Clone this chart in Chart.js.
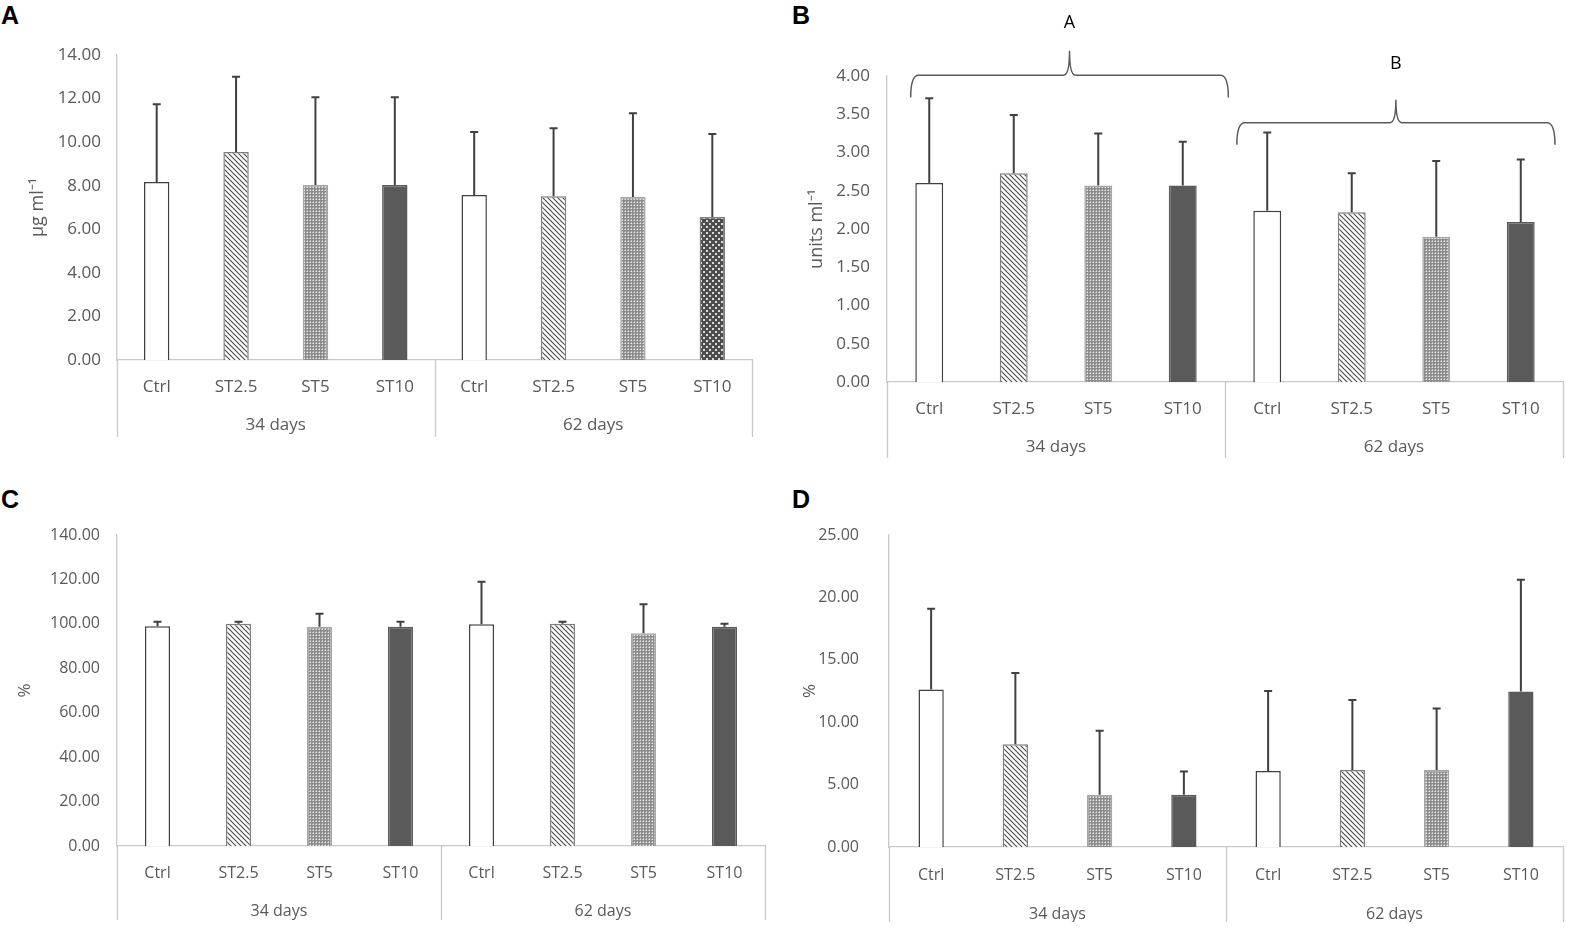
<!DOCTYPE html>
<html>
<head>
<meta charset="utf-8">
<script src="https://cdn.jsdelivr.net/npm/chart.js@4.4.0/dist/chart.umd.min.js"></script>
<style>
  html, body { margin: 0; padding: 0; background: #fff; }
  body { width: 1571px; height: 928px; position: relative; overflow: hidden; }
  .panel { position: absolute; }
  .tag { position: absolute; font: bold 25px "Liberation Sans", Arial, sans-serif; line-height: 1; color: #000; }
</style>
</head>
<body>
<div class="tag" style="left:1px;top:3px">A</div>
<div class="tag" style="left:792px;top:3px">B</div>
<div class="tag" style="left:1px;top:487px">C</div>
<div class="tag" style="left:792px;top:487px">D</div>

<div class="panel" style="left:0;top:0;width:780px;height:460px"><canvas id="chartA"></canvas></div>
<div class="panel" style="left:780px;top:0;width:791px;height:470px"><canvas id="chartB"></canvas></div>
<div class="panel" style="left:0;top:490px;width:780px;height:438px"><canvas id="chartC"></canvas></div>
<div class="panel" style="left:780px;top:490px;width:791px;height:438px"><canvas id="chartD"></canvas></div>

<script>
// categories (two-level axis)
var treatments = ["Ctrl", "ST2.5", "ST5", "ST10", "Ctrl", "ST2.5", "ST5", "ST10"];
var periods = ["34 days", "62 days"];

// A - ug/ml
var aMeans = [8.17, 9.55, 8.03, 8.03, 7.57, 7.52, 7.48, 6.56];
var aSD = [3.57, 3.45, 4.03, 4.03, 2.89, 3.12, 3.85, 3.81];
// B - units/ml
var bMeans = [2.60, 2.73, 2.57, 2.57, 2.24, 2.22, 1.90, 2.09];
var bSD = [1.11, 0.76, 0.68, 0.57, 1.02, 0.51, 0.99, 0.82];
// C - %
var cMeans = [98.9, 100.1, 98.7, 98.7, 99.8, 100.1, 95.8, 98.7];
var cSD = [2.1, 0.8, 5.9, 2.3, 19.1, 0.8, 13.0, 1.4];
// D - %
var dMeans = [12.62, 8.23, 4.18, 4.18, 6.09, 6.17, 6.17, 12.46];
var dSD = [6.47, 5.72, 5.13, 1.86, 6.42, 5.60, 4.93, 8.95];

// group letters over panel B (statistical groups)
var bGroupLetters = ["A", "B"];

var textColor = "#595959";
var lineColor = "#c9c9c9";
var errColor = "#404040";

function tile(size, draw) {
  var cv = document.createElement("canvas");
  cv.width = size; cv.height = size;
  var g = cv.getContext("2d");
  draw(g, size);
  return g.createPattern(cv, "repeat");
}

var hatch = tile(5, function (g, s) {
  g.fillStyle = "#fff"; g.fillRect(0, 0, s, s);
  g.strokeStyle = "#4a4a4a"; g.lineWidth = 1.1;
  g.beginPath();
  g.moveTo(-1, -1); g.lineTo(s + 1, s + 1);
  g.moveTo(-1, s - 1); g.lineTo(1, s + 1);
  g.moveTo(s - 1, -1); g.lineTo(s + 1, 1);
  g.stroke();
});
var dotsLight = tile(3, function (g, s) {
  g.fillStyle = "#8c8c8c"; g.fillRect(0, 0, s, s);
  g.fillStyle = "#e6e6e6"; g.fillRect(1, 1, 1, 1);
  g.fillStyle = "#bdbdbd"; g.fillRect(0, 1, 1, 1); g.fillRect(1, 0, 1, 1);
});
var dotsDark = tile(6, function (g, s) {
  g.fillStyle = "#4d4d4d"; g.fillRect(0, 0, s, s);
  g.fillStyle = "#d9d9d9";
  g.fillRect(1, 1, 2, 2); g.fillRect(4, 4, 2, 2);
});

var baseFills = ["#ffffff", hatch, dotsLight, "#5a5a5a"];
var baseBorders = ["#404040", "#7f7f7f", "#a6a6a6", "#5a5a5a"];

// error bars on top of each bar
var errorBars = {
  id: "errorBars",
  afterDatasetsDraw: function (chart) {
    var sd = chart.options.plugins.errorBars.sd;
    var cap = chart.options.plugins.errorBars.cap;
    var y = chart.scales.y;
    var meta = chart.getDatasetMeta(0);
    var vals = chart.data.datasets[0].data;
    var ctx = chart.ctx;
    ctx.save();
    ctx.strokeStyle = errColor;
    ctx.lineWidth = 2;
    meta.data.forEach(function (bar, i) {
      var top = y.getPixelForValue(vals[i] + sd[i]);
      ctx.beginPath();
      ctx.moveTo(bar.x, bar.y);
      ctx.lineTo(bar.x, top);
      ctx.moveTo(bar.x - cap, top);
      ctx.lineTo(bar.x + cap, top);
      ctx.stroke();
    });
    ctx.restore();
  }
};

// vertical separators of the two-level category axis
var groupLines = {
  id: "groupLines",
  afterDraw: function (chart) {
    var x = chart.scales.x, x2 = chart.scales.x2, ctx = chart.ctx;
    ctx.save();
    ctx.strokeStyle = lineColor;
    ctx.lineWidth = 1.3;
    [-0.5, 3.5, 7.5].forEach(function (v) {
      var px = Math.round(x.getPixelForValue(v)) + 0.5;
      ctx.beginPath();
      ctx.moveTo(px, x.top);
      ctx.lineTo(px, x2.bottom);
      ctx.stroke();
    });
    ctx.restore();
  }
};

// curly braces with letters above each period (panel B)
var braces = {
  id: "braces",
  afterDraw: function (chart) {
    var list = chart.options.plugins.braces.list;
    if (!list) return;
    var x = chart.scales.x, y = chart.scales.y, ctx = chart.ctx;
    ctx.save();
    ctx.strokeStyle = "#5a5a5a";
    ctx.lineWidth = 1.5;
    ctx.fillStyle = "#000";
    ctx.font = "18px 'Open Sans'";
    ctx.textAlign = "center";
    ctx.textBaseline = "middle";
    list.forEach(function (b) {
      var x0 = x.getPixelForValue(b.from), x1 = x.getPixelForValue(b.to);
      var xc = (x0 + x1) / 2;
      var yh = y.getPixelForValue(b.level);
      var ye = y.getPixelForValue(b.end);
      var yt = y.getPixelForValue(b.tip);
      var r = 8;
      ctx.beginPath();
      ctx.moveTo(x0, ye);
      ctx.quadraticCurveTo(x0, yh, x0 + r, yh);
      ctx.lineTo(xc - 6, yh);
      ctx.quadraticCurveTo(xc, yh, xc, yt);
      ctx.quadraticCurveTo(xc, yh, xc + 6, yh);
      ctx.lineTo(x1 - r, yh);
      ctx.quadraticCurveTo(x1, yh, x1, ye);
      ctx.stroke();
      ctx.fillText(b.text, xc, y.getPixelForValue(b.label));
    });
    ctx.restore();
  }
};

function makePanel(id, means, sd, cfg) {
  var fills = baseFills.concat(baseFills);
  var borders = baseBorders.concat(baseBorders);
  if (cfg.lastFill) { fills[7] = cfg.lastFill; borders[7] = "#7f7f7f"; }
  var fs = cfg.fontSize;
  new Chart(document.getElementById(id), {
    type: "bar",
    data: {
      labels: treatments,
      datasets: [{
        data: means,
        backgroundColor: fills,
        borderColor: borders,
        borderWidth: 1.5,
        barPercentage: cfg.barPct,
        categoryPercentage: 1
      }]
    },
    options: {
      responsive: true,
      maintainAspectRatio: false,
      animation: false,
      layout: { padding: cfg.pad },
      plugins: {
        legend: { display: false },
        tooltip: { enabled: false },
        errorBars: { sd: sd, cap: cfg.cap },
        braces: { list: cfg.braces }
      },
      scales: {
        y: {
          min: 0, max: cfg.max,
          afterFit: function (s) { s.width = cfg.yWidth; },
          ticks: {
            stepSize: cfg.step,
            color: textColor,
            padding: cfg.yTickPad,
            font: { family: "Open Sans", size: fs },
            callback: function (v) { return Number(v).toFixed(2); }
          },
          grid: { display: false, drawTicks: false },
          border: { display: true, color: lineColor, width: 1.3 },
          title: {
            display: true, text: cfg.yTitle, color: textColor,
            font: { family: "Open Sans", size: fs + 1 },
            padding: { top: cfg.titlePad, bottom: 0 }
          }
        },
        x: {
          weight: 0,
          afterFit: function (s) { s.height = cfg.xH; },
          ticks: {
            color: textColor, maxRotation: 0, autoSkip: false,
            padding: cfg.xTickPad,
            font: { family: "Open Sans", size: fs }
          },
          grid: { display: false, drawTicks: false },
          border: { display: true, color: lineColor, width: 1.3 }
        },
        x2: {
          type: "category",
          position: "bottom",
          weight: 1,
          labels: periods,
          offset: true,
          afterFit: function (s) { s.height = cfg.x2H; },
          ticks: {
            color: textColor, maxRotation: 0, padding: cfg.x2TickPad,
            font: { family: "Open Sans", size: fs }
          },
          grid: { display: false, drawTicks: false },
          border: { display: false }
        }
      }
    },
    plugins: [errorBars, groupLines, braces]
  });
}

makePanel("chartA", aMeans, aSD, {
  max: 14, step: 2, yTitle: "\u03bcg ml\u207b\u00b9", fontSize: 17,
  pad: { left: 0, top: 55, right: 28, bottom: 23 },
  yWidth: 117, yTickPad: 16, titlePad: 27,
  xH: 45, xTickPad: 17, x2H: 32, x2TickPad: 10,
  barPct: 0.32, cap: 4, lastFill: dotsDark
});

makePanel("chartB", bMeans, bSD, {
  max: 4, step: 0.5, yTitle: "units ml\u207b\u00b9", fontSize: 17,
  pad: { left: 0, top: 76, right: 8, bottom: 12 },
  yWidth: 107, yTickPad: 17, titlePad: 26,
  xH: 45, xTickPad: 17, x2H: 31, x2TickPad: 10,
  barPct: 0.33, cap: 4,
  braces: [
    { text: bGroupLetters[0], from: -0.22, to: 3.54, level: 4.01, end: 3.72, tip: 4.33, label: 4.69 },
    { text: bGroupLetters[1], from: 3.64, to: 7.405, level: 3.39, end: 3.10, tip: 3.69, label: 4.16 }
  ]
});

makePanel("chartC", cMeans, cSD, {
  max: 140, step: 20, yTitle: "%", fontSize: 16,
  pad: { left: 0, top: 45, right: 15, bottom: 8 },
  yWidth: 117, yTickPad: 17, titlePad: 15,
  xH: 40, xTickPad: 18, x2H: 34, x2TickPad: 16,
  barPct: 0.31, cap: 4
});

makePanel("chartD", dMeans, dSD, {
  max: 25, step: 5, yTitle: "%", fontSize: 16,
  pad: { left: 0, top: 45, right: 8, bottom: 6 },
  yWidth: 109, yTickPad: 30, titlePad: 20,
  xH: 42, xTickPad: 19, x2H: 33, x2TickPad: 16,
  barPct: 0.30, cap: 4
});
</script>
</body>
</html>
